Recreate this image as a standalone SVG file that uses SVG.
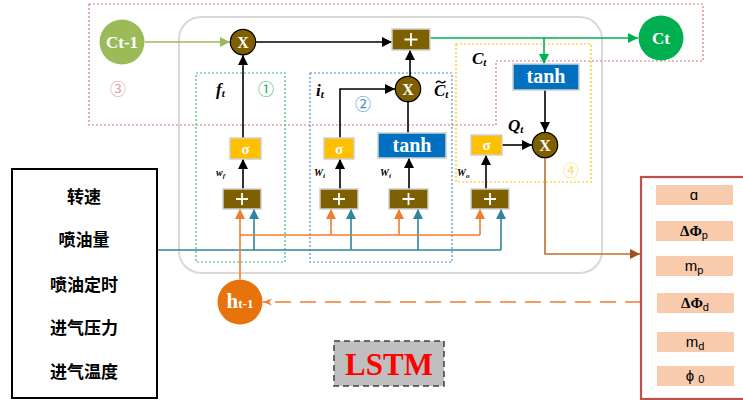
<svg xmlns="http://www.w3.org/2000/svg" width="743" height="400" viewBox="0 0 743 400">
  <defs>
    <marker id="ah-black" viewBox="0 0 10 10" refX="10" refY="5" markerWidth="11" markerHeight="10" markerUnits="userSpaceOnUse" orient="auto">
      <path d="M0,0 L10,5 L0,10 z" fill="#000"/>
    </marker>
    <marker id="ah-green" viewBox="0 0 10 10" refX="10" refY="5" markerWidth="11" markerHeight="10" markerUnits="userSpaceOnUse" orient="auto">
      <path d="M0,0 L10,5 L0,10 z" fill="#00b050"/>
    </marker>
    <marker id="ah-lime" viewBox="0 0 10 10" refX="10" refY="5" markerWidth="11" markerHeight="10" markerUnits="userSpaceOnUse" orient="auto">
      <path d="M0,0 L10,5 L0,10 z" fill="#9bbb59"/>
    </marker>
    <marker id="ah-orange" viewBox="0 0 10 10" refX="10" refY="5" markerWidth="11" markerHeight="10" markerUnits="userSpaceOnUse" orient="auto">
      <path d="M0,0 L10,5 L0,10 z" fill="#ed7d31"/>
    </marker>
    <marker id="ah-teal" viewBox="0 0 10 10" refX="10" refY="5" markerWidth="11" markerHeight="10" markerUnits="userSpaceOnUse" orient="auto">
      <path d="M0,0 L10,5 L0,10 z" fill="#31849b"/>
    </marker>
    <marker id="ah-brown" viewBox="0 0 10 10" refX="10" refY="5" markerWidth="12" markerHeight="10" markerUnits="userSpaceOnUse" orient="auto">
      <path d="M0,0 L10,5 L0,10 z" fill="#a0501a"/>
    </marker>
    <marker id="ah-dash" viewBox="0 0 10 10" refX="10" refY="5" markerWidth="12" markerHeight="9" markerUnits="userSpaceOnUse" orient="auto">
      <path d="M0,1 L10,5 L0,9 L3,5 z" fill="#ed7d31"/>
    </marker>
  </defs>
  <style>
    .serif { font-family: "Liberation Serif", "Times New Roman", serif; }
    .sans { font-family: "Liberation Sans", Arial, sans-serif; }
    .cjk { font-family: "Noto Sans CJK SC", sans-serif; font-size: 17px; font-weight: 700; fill: #000; text-anchor: middle; }
    .wlabel { font-family: "Liberation Serif", serif; font-style: italic; font-weight: 700; font-size: 10px; fill: #000; }
    .glabel { font-family: "Liberation Serif", serif; font-style: italic; font-weight: 700; font-size: 17px; fill: #000; }
    .mul circle { fill: #7f6000; stroke: #000; stroke-width: 1.2; }
    .mul text { font-family: "Liberation Serif", serif; font-weight: 700; font-size: 16px; fill: #fff; text-anchor: middle; }
    .add rect { fill: #7f6000; stroke: #d0d0d0; stroke-width: 1.5; }
    .add path { stroke: #fff; stroke-width: 1.8; fill: none; }
    .sig rect { fill: #ffc000; stroke: #d0d0d0; stroke-width: 1.5; }
    .sig text { font-family: "Liberation Serif", serif; font-weight: 700; font-size: 15px; fill: #fff; text-anchor: middle; }
    .tanh rect { fill: #0070c0; stroke: #d0d0d0; stroke-width: 1.5; }
    .tanh text { font-family: "Liberation Serif", serif; font-weight: 700; font-size: 20px; fill: #fff; text-anchor: middle; }
    .state text { font-family: "Liberation Serif", serif; font-weight: 700; fill: #fff; text-anchor: middle; }
    .out .item { fill: #f8cbad; }
    .out text { font-size: 15px; fill: #000; text-anchor: middle; }
    .ln { fill: none; stroke-width: 1.6; }
    .blk { stroke: #000; }
    .org { stroke: #ed7d31; }
    .teal { stroke: #31849b; }
    .circnum { font-family: "Noto Sans CJK SC", sans-serif; font-size: 16px; text-anchor: middle; }
  </style>

  <rect width="743" height="400" fill="#fff"/>

  <!-- cell outline -->
  <rect id="cell" x="179" y="17" width="423" height="256" rx="22" fill="none" stroke="#d9d9d9" stroke-width="2"/>

  <!-- region frames -->
  <g id="regions" fill="none" stroke-width="1.2" stroke-dasharray="2 2">
    <path d="M89,4 H703 V61 H496 V125 H89 Z" stroke="#d47a78"/>
    <rect x="196" y="73" width="89" height="189" stroke="#33c06a"/>
    <rect x="310" y="73" width="142" height="189" stroke="#4a90d0"/>
    <rect x="456" y="44" width="135" height="138" stroke="#ffc000"/>
  </g>
  <g id="region-numbers">
    <text class="circnum" x="118" y="95" fill="#e59a98">③</text>
    <text class="circnum" x="266" y="95" fill="#22b35a">①</text>
    <text class="circnum" x="363" y="110" fill="#3d8fd6">②</text>
    <text class="circnum" x="571" y="176" fill="#ffd966">④</text>
  </g>

  <!-- connectors -->
  <g id="connectors">
    <line class="ln" x1="145" y1="42" x2="230" y2="42" stroke="#9bbb59" marker-end="url(#ah-lime)"/>
    <line class="ln blk" x1="256" y1="42" x2="392" y2="42" marker-end="url(#ah-black)"/>
    <line class="ln" x1="430" y1="38" x2="638" y2="38" stroke="#00b050" marker-end="url(#ah-green)"/>
    <line class="ln" x1="544" y1="38" x2="544" y2="64" stroke="#00b050" marker-end="url(#ah-green)"/>
    <line class="ln blk" x1="545" y1="90" x2="545" y2="132" marker-end="url(#ah-black)"/>
    <line class="ln blk" x1="502" y1="145" x2="532" y2="145" marker-end="url(#ah-black)"/>
    <line class="ln blk" x1="243" y1="138" x2="243" y2="55" marker-end="url(#ah-black)"/>
    <polyline class="ln blk" points="340,138 340,89 395,89" marker-end="url(#ah-black)"/>
    <line class="ln blk" x1="408" y1="133" x2="408" y2="102"/>
    <line class="ln blk" x1="410" y1="76" x2="410" y2="50" marker-end="url(#ah-black)"/>
    <line class="ln blk" x1="243" y1="189" x2="243" y2="159" marker-end="url(#ah-black)"/>
    <line class="ln blk" x1="340" y1="189" x2="340" y2="159" marker-end="url(#ah-black)"/>
    <line class="ln blk" x1="409" y1="189" x2="409" y2="158" marker-end="url(#ah-black)"/>
    <line class="ln blk" x1="486" y1="189" x2="486" y2="155" marker-end="url(#ah-black)"/>
    <!-- input vector bus -->
    <polyline class="ln teal" points="157,250 501,250"/>
    <line class="ln teal" x1="254" y1="250" x2="254" y2="209" marker-end="url(#ah-teal)"/>
    <line class="ln teal" x1="351" y1="250" x2="351" y2="209" marker-end="url(#ah-teal)"/>
    <line class="ln teal" x1="418" y1="250" x2="418" y2="209" marker-end="url(#ah-teal)"/>
    <line class="ln teal" x1="501" y1="250" x2="501" y2="209" marker-end="url(#ah-teal)"/>
    <!-- hidden state bus -->
    <line class="ln org" x1="240" y1="279" x2="240" y2="209" marker-end="url(#ah-orange)"/>
    <polyline class="ln org" points="240,235 480,235"/>
    <line class="ln org" x1="331" y1="235" x2="331" y2="209" marker-end="url(#ah-orange)"/>
    <line class="ln org" x1="399" y1="235" x2="399" y2="209" marker-end="url(#ah-orange)"/>
    <line class="ln org" x1="480" y1="235" x2="480" y2="209" marker-end="url(#ah-orange)"/>
    <!-- cell output -->
    <polyline class="ln" points="545,158 545,254 640,254" stroke="#c0702e" marker-end="url(#ah-brown)"/>
    <line x1="641" y1="302" x2="263" y2="302" stroke="#ed7d31" stroke-width="1.6" stroke-dasharray="16 9" marker-end="url(#ah-dash)"/>
  </g>

  <!-- states -->
  <g id="c-prev" class="state">
    <circle cx="122" cy="42" r="22.5" fill="#9bbb59"/>
    <text x="122" y="48" font-size="17">Ct-1</text>
  </g>
  <g id="c-next" class="state">
    <circle cx="661" cy="38" r="22.5" fill="#00b050"/>
    <text x="661" y="44" font-size="17">Ct</text>
  </g>
  <g id="h-prev" class="state">
    <circle cx="240" cy="302" r="22.5" fill="#e8720c"/>
    <text x="240" y="308"><tspan font-size="21">h</tspan><tspan font-size="13">t-1</tspan></text>
  </g>

  <!-- multiplication nodes -->
  <g id="mul-forget" class="mul"><circle cx="243" cy="42" r="12.7"/><text x="243" y="48">X</text></g>
  <g id="mul-input" class="mul"><circle cx="408" cy="89" r="12.7"/><text x="408" y="95">X</text></g>
  <g id="mul-output" class="mul"><circle cx="545" cy="145" r="12.7"/><text x="545" y="151">X</text></g>

  <!-- addition nodes -->
  <g id="add-cell" class="add"><rect x="392" y="29" width="38" height="21"/><path d="M411,33 V46 M404.5,39.5 H417.5"/></g>
  <g id="add-f" class="add"><rect x="223" y="189" width="38" height="20"/><path d="M242,193 V205 M236,199 H248"/></g>
  <g id="add-i" class="add"><rect x="320" y="189" width="38" height="20"/><path d="M339,193 V205 M333,199 H345"/></g>
  <g id="add-c" class="add"><rect x="389" y="189" width="39" height="20"/><path d="M408.5,193 V205 M402.5,199 H414.5"/></g>
  <g id="add-o" class="add"><rect x="471" y="189" width="38" height="20"/><path d="M490,193 V205 M484,199 H496"/></g>

  <!-- activations -->
  <g id="sigma-f" class="sig"><rect x="230" y="138" width="31" height="21"/><text x="245.5" y="154">σ</text></g>
  <g id="sigma-i" class="sig"><rect x="324" y="138" width="30" height="21"/><text x="339" y="154">σ</text></g>
  <g id="sigma-o" class="sig"><rect x="471" y="135" width="31" height="20"/><text x="486.5" y="150">σ</text></g>
  <g id="tanh-c" class="tanh"><rect x="378" y="133" width="68" height="25"/><text x="412" y="152">tanh</text></g>
  <g id="tanh-out" class="tanh"><rect x="513" y="64" width="66" height="26"/><text x="546" y="83">tanh</text></g>

  <!-- gate labels -->
  <g id="gate-labels">
    <text class="glabel" x="216" y="95">f<tspan font-size="11" dy="2">t</tspan></text>
    <text class="glabel" x="316" y="96" font-size="19">i<tspan font-size="11" dy="2">t</tspan></text>
    <text class="glabel" x="434" y="96">C<tspan font-size="11" dy="2">t</tspan></text>
    <!-- tilde over the candidate state -->
    <path d="M436,83 q2,-3 4.5,-1 t5,-1" fill="none" stroke="#000" stroke-width="1.4"/>
    <text class="glabel" x="472" y="64">C<tspan font-size="11" dy="2">t</tspan></text>
    <text class="glabel" x="508" y="131">Q<tspan font-size="11" dy="2">t</tspan></text>
    <text class="wlabel" x="216" y="176">w<tspan font-size="7" dy="2">f</tspan></text>
    <text class="wlabel" x="314" y="176">W<tspan font-size="7" dy="2">i</tspan></text>
    <text class="wlabel" x="380" y="176">W<tspan font-size="7" dy="2">i</tspan></text>
    <text class="wlabel" x="457" y="176">W<tspan font-size="7" dy="2">o</tspan></text>
  </g>

  <!-- engine inputs -->
  <g id="inputs">
    <rect x="12" y="169" width="145" height="229" fill="#fff" stroke="#000" stroke-width="2"/>
    <text class="cjk" x="84" y="203">转速</text>
    <text class="cjk" x="84" y="246">喷油量</text>
    <text class="cjk" x="84" y="291">喷油定时</text>
    <text class="cjk" x="84" y="334">进气压力</text>
    <text class="cjk" x="84" y="378">进气温度</text>
  </g>

  <!-- model outputs -->
  <g id="outputs" class="out">
    <rect x="641" y="177" width="120" height="222" fill="#fff" stroke="#c0504d" stroke-width="2.2"/>
    <rect class="item" x="656" y="185" width="77" height="20"/>
    <text class="sans" x="694" y="200">ɑ</text>
    <rect class="item" x="656" y="221" width="77" height="20"/>
    <text class="serif" x="694" y="236" font-weight="700">ΔΦ<tspan class="sans" font-weight="400" font-size="11" dy="3">p</tspan></text>
    <rect class="item" x="656" y="256" width="77" height="20"/>
    <text class="sans" x="694" y="271">m<tspan font-size="11" dy="3">p</tspan></text>
    <rect class="item" x="657" y="293" width="77" height="20"/>
    <text class="serif" x="695" y="308" font-weight="700">ΔΦ<tspan class="sans" font-weight="400" font-size="11" dy="3">d</tspan></text>
    <rect class="item" x="657" y="332" width="77" height="20"/>
    <text class="sans" x="695" y="347">m<tspan font-size="11" dy="3">d</tspan></text>
    <rect class="item" x="657" y="366" width="77" height="20"/>
    <text class="sans" x="695" y="381">ϕ <tspan font-size="11" dy="2">0</tspan></text>
  </g>

  <!-- title tag -->
  <g id="lstm-tag">
    <rect x="334" y="341" width="110" height="45" fill="#bfbfbf" stroke="#404040" stroke-width="1.5" stroke-dasharray="6 4"/>
    <text class="serif" x="389" y="375" font-size="31" font-weight="700" fill="#ff0000" text-anchor="middle">LSTM</text>
  </g>
</svg>
